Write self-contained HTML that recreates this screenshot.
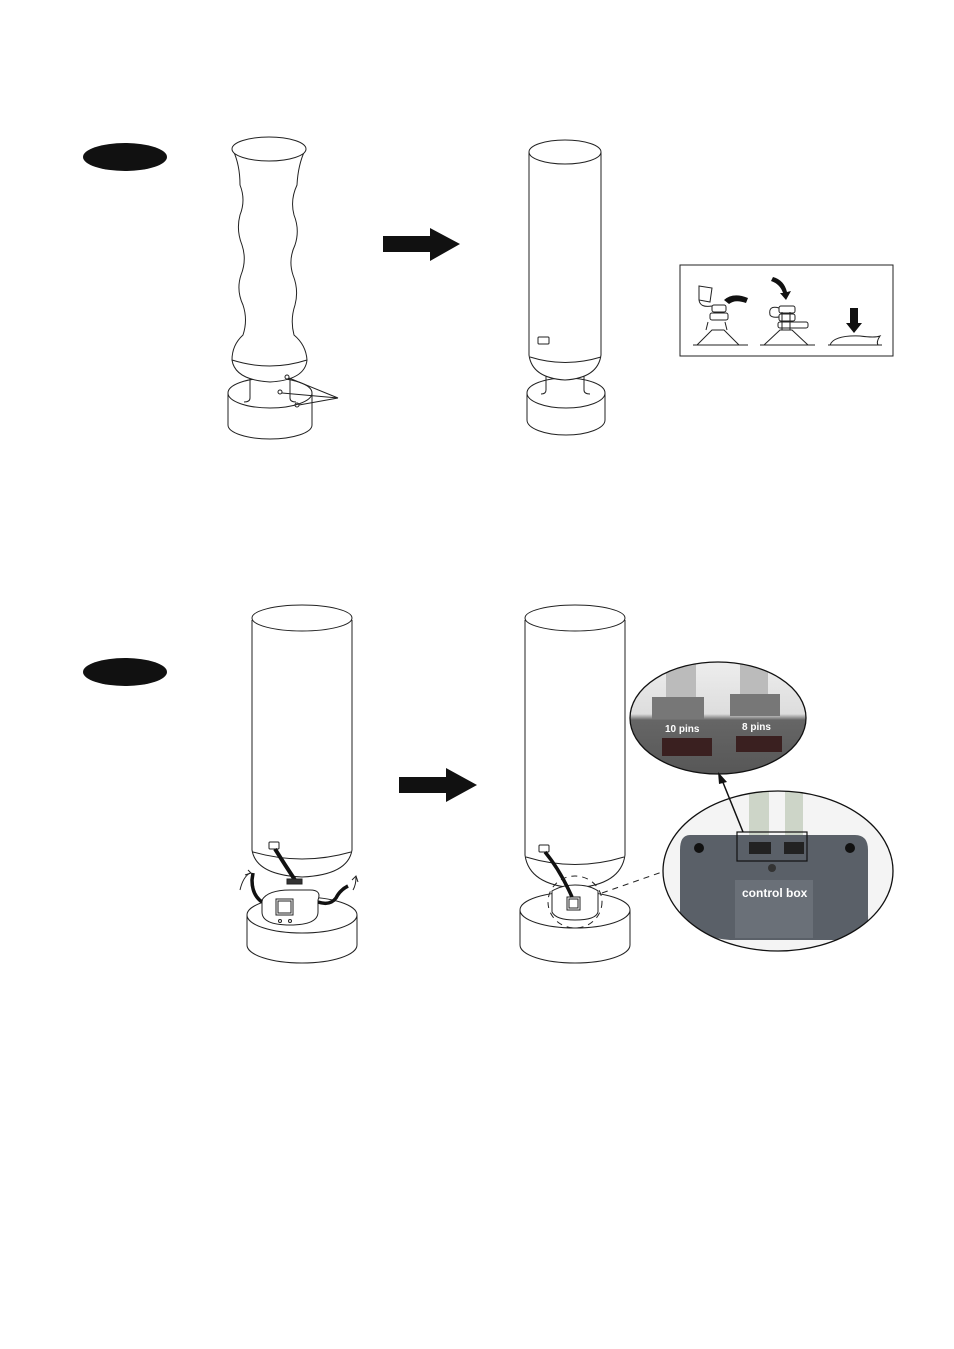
<!DOCTYPE html>
<html><head><meta charset="utf-8"><style>
html,body{margin:0;padding:0;background:#fff;}
svg{display:block;}
text{font-family:"Liberation Sans",sans-serif;font-weight:bold;}
</style></head><body>
<svg width="954" height="1349" viewBox="0 0 954 1349" xmlns="http://www.w3.org/2000/svg">
<rect width="954" height="1349" fill="#fff"/>
<g fill="none" stroke="#222" stroke-width="1">
<!-- Step ovals -->
<ellipse cx="125" cy="157" rx="42" ry="14" fill="#111" stroke="none"/>
<ellipse cx="125" cy="672" rx="42" ry="14" fill="#111" stroke="none"/>

<!-- TOP LEFT deflated -->
<path d="M228 393 L228 425 A42 14 0 0 0 312 425 L312 393"/>
<ellipse cx="270" cy="393" rx="42" ry="15" fill="#fff"/>
<path d="M250 375 L250 398 Q250 402 244 402 M290 375 L290 398 Q290 402 296 402"/>
<path d="M233 150 Q240 165 240 185 Q246 200 240 215 Q236 230 242 245 Q247 260 241 275 Q236 290 243 305 Q248 320 243 335 Q232 345 232 360 Q235 380 270 382 Q305 380 307 360 Q306 345 294 335 Q290 320 295 305 Q299 290 293 275 Q288 260 295 245 Q300 230 294 215 Q290 200 297 185 Q298 165 305 150" fill="#fff"/>
<path d="M232 360 Q270 372 307 360"/>
<ellipse cx="269" cy="149" rx="37" ry="12" fill="#fff"/>
<circle cx="287" cy="377" r="2"/><circle cx="280" cy="392" r="2"/><circle cx="297" cy="405" r="2"/>
<path d="M289 378 L338 398 L282 393 M338 398 L299 405"/>

<!-- Arrow 1 -->
<path d="M383 236 L430 236 L430 228 L460 244 L430 261 L430 252 L383 252 Z" fill="#111" stroke="none"/>

<!-- TOP RIGHT inflated -->
<path d="M527 393 L527 420 A39 15 0 0 0 605 420 L605 393"/>
<ellipse cx="566" cy="393" rx="39" ry="15" fill="#fff"/>
<path d="M546 375 L546 390 Q546 394 541 394 M584 375 L584 390 Q584 394 590 394"/>
<path d="M529 152 L529 355 Q532 378 565 380 Q598 378 601 355 L601 152" fill="#fff"/>
<path d="M530 357 Q565 368 601 357"/>
<ellipse cx="565" cy="152" rx="36" ry="12" fill="#fff"/>
<rect x="538" y="337" width="11" height="7" rx="1"/>

<!-- inset box -->
<rect x="680" y="265" width="213" height="91"/>
<path d="M693 345 L748 345 M697 345 L712 330 L724 330 L739 345 M706 330 L708 322 M727 330 L725 322"/>
<rect x="710" y="313" width="18" height="7" rx="2"/><rect x="712" y="305" width="14" height="7" rx="2"/>
<path d="M699 286 L712 288 L710 302 L699 300 Z M699 300 Q700 308 712 306"/>
<path d="M760 345 L815 345 M764 345 L780 330 L792 330 L808 345 M782 330 L782 312 M790 330 L790 312"/>
<rect x="778" y="322" width="30" height="6" rx="2"/><rect x="779" y="306" width="16" height="7" rx="2"/><rect x="779" y="314" width="16" height="7" rx="2"/>
<path d="M779 308 Q768 305 770 315 Q772 318 779 317"/>
<path d="M828 345 L882 345 M830 345 Q834 335 860 336 Q875 338 880 336 Q876 342 878 345"/>
</g>
<path d="M724 300 Q733 292 748 298 L746 303 Q735 299 729 304 Z" fill="#111"/>
<path d="M773 277 Q784 280 787 292 L791 291 L786 300 L780 293 L783 293 Q780 284 771 281 Z" fill="#111"/>
<path d="M850 308 L858 308 L858 323 L862 323 L854 333 L846 323 L850 323 Z" fill="#111"/>

<g fill="none" stroke="#222" stroke-width="1">
<!-- BOTTOM LEFT -->
<path d="M247 915 L247 945 A55 18 0 0 0 357 945 L357 915"/>
<ellipse cx="302" cy="915" rx="55" ry="18" fill="#fff"/>
<path d="M252 620 L252 850 Q256 875 302 877 Q348 875 352 850 L352 620" fill="#fff"/>
<path d="M253 852 Q302 866 351 852"/>
<ellipse cx="302" cy="618" rx="50" ry="13" fill="#fff"/>
<rect x="269" y="842" width="10" height="7" rx="1"/>
<path d="M275 849 Q285 865 295 880" stroke="#111" stroke-width="4"/>
<rect x="287" y="879" width="15" height="5" fill="#333"/>
<path d="M262 900 Q268 890 290 890 L310 890 Q322 890 318 900 L318 912 Q318 925 290 925 Q262 925 262 912 Z" fill="#fff"/>
<rect x="276" y="899" width="17" height="16"/><rect x="278" y="901" width="13" height="12"/>
<circle cx="280" cy="921" r="1.5"/><circle cx="290" cy="921" r="1.5"/>
<path d="M262 902 Q252 895 252 880 L253 873" stroke="#111" stroke-width="3.5"/>
<path d="M318 902 Q330 906 336 898 Q340 890 348 886" stroke="#111" stroke-width="3.5"/>
<path d="M240 890 Q243 877 250 873 M353 890 Q356 885 356 877 M352 880 L356 876 L358 882"/>
<path d="M248 870 L251 873 L245 875"/>

<!-- Arrow 2 -->
<path d="M399 777 L446 777 L446 768 L477 785 L446 802 L446 793 L399 793 Z" fill="#111" stroke="none"/>

<!-- BOTTOM RIGHT -->
<path d="M520 910 L520 945 A55 18 0 0 0 630 945 L630 910"/>
<ellipse cx="575" cy="910" rx="55" ry="18" fill="#fff"/>
<path d="M525 620 L525 855 Q529 885 575 888 Q621 885 625 855 L625 620" fill="#fff"/>
<path d="M526 857 Q575 872 624 857"/>
<ellipse cx="575" cy="618" rx="50" ry="13" fill="#fff"/>
<rect x="539" y="845" width="10" height="7" rx="1"/>
<path d="M552 891 Q562 885 575 885 Q590 885 598 891 L598 912 Q596 920 575 920 Q556 920 552 912 Z" fill="#fff"/>
<rect x="567" y="897" width="13" height="13"/><rect x="569" y="899" width="9" height="9"/>
<path d="M545 852 Q560 870 572 897" stroke="#111" stroke-width="3.5"/>
<ellipse cx="575" cy="902" rx="27" ry="26" stroke-dasharray="6 5"/>
<path d="M602 893 L662 872" stroke-dasharray="6 5"/>
</g>

<!-- photo callouts -->
<defs>
<linearGradient id="g1" x1="0" y1="0" x2="0" y2="1"><stop offset="0" stop-color="#eee"/><stop offset="0.45" stop-color="#ddd"/><stop offset="0.5" stop-color="#666"/><stop offset="1" stop-color="#555"/></linearGradient>
<clipPath id="c1"><ellipse cx="718" cy="718" rx="88" ry="56"/></clipPath>
<clipPath id="c2"><ellipse cx="778" cy="871" rx="115" ry="80"/></clipPath>
</defs>
<g clip-path="url(#c1)">
<rect x="630" y="660" width="180" height="120" fill="url(#g1)"/>
<rect x="666" y="662" width="30" height="38" fill="#bbb"/><rect x="740" y="662" width="28" height="35" fill="#bbb"/>
<rect x="652" y="697" width="52" height="22" fill="#777"/><rect x="730" y="694" width="50" height="22" fill="#777"/>
<rect x="662" y="738" width="50" height="18" fill="#3a2020"/><rect x="736" y="736" width="46" height="16" fill="#3a2020"/>
<text x="665" y="732" font-size="10" fill="#fff">10 pins</text>
<text x="742" y="730" font-size="10" fill="#fff">8 pins</text>
</g>
<ellipse cx="718" cy="718" rx="88" ry="56" fill="none" stroke="#111" stroke-width="1.3"/>
<g clip-path="url(#c2)">
<rect x="660" y="790" width="235" height="170" fill="#f4f4f4"/>
<rect x="749" y="790" width="20" height="55" fill="#cdd5c8"/><rect x="785" y="790" width="18" height="55" fill="#cdd5c8"/>
<path d="M690 835 Q680 835 680 850 L680 915 Q680 935 730 940 L840 940 Q870 935 868 915 L868 850 Q868 835 855 835 Z" fill="#5a6068"/>
<rect x="735" y="880" width="78" height="58" fill="#6a7078"/>
<rect x="749" y="842" width="22" height="12" fill="#222"/><rect x="784" y="842" width="20" height="12" fill="#222"/>
<circle cx="699" cy="848" r="5" fill="#111"/><circle cx="850" cy="848" r="5" fill="#111"/>
<circle cx="772" cy="868" r="4" fill="#333"/>
<text x="742" y="897" font-size="12" fill="#fff">control box</text>
</g>
<ellipse cx="778" cy="871" rx="115" ry="80" fill="none" stroke="#111" stroke-width="1.3"/>
<rect x="737" y="832" width="70" height="29" fill="none" stroke="#111" stroke-width="1.2"/>
<path d="M743 832 L722 780" stroke="#111" stroke-width="1.5"/>
<path d="M718 772 L727 782 L719 784 Z" fill="#111"/>
</svg>
</body></html>
